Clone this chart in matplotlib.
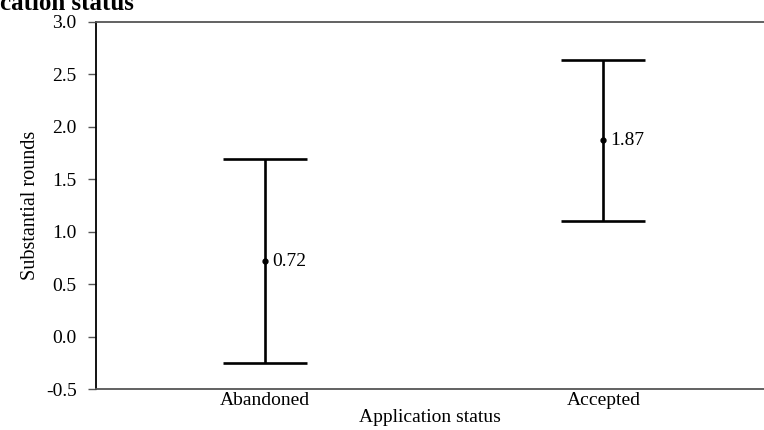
import matplotlib
matplotlib.use("Agg")
import matplotlib.pyplot as plt

categories = ["Abandoned", "Accepted"]
means = [0.72, 1.87]
lower = [-0.255, 1.105]
upper = [1.695, 2.635]
yticks = [-0.5, 0.0, 0.5, 1.0, 1.5, 2.0, 2.5, 3.0]

plt.rcParams['font.family'] = ['Liberation Serif', 'DejaVu Serif']
plt.rcParams['axes.unicode_minus'] = False

fig = plt.figure(figsize=(7.64, 4.30), dpi=100)
ax = fig.add_axes([96/764, 41/430, 1 - 96/764, (389-22)/430])

x = list(range(len(categories)))
yerr = [[m - l for m, l in zip(means, lower)], [u - m for m, u in zip(means, upper)]]
ax.errorbar(x, means, yerr=yerr, fmt='o', color='black', ecolor='black',
            markersize=3.5, elinewidth=1.9, capsize=30, capthick=1.9)
for xi, m in zip(x, means):
    ax.annotate(f"{m:.2f}", (xi, m), xytext=(5, 0), textcoords='offset points',
                va='center', ha='left', fontsize=14)

ax.set_xlim(-0.5, 1.475)
ax.set_ylim(-0.5, 3.0)
ax.set_yticks(yticks)
ax.set_yticklabels([f"{v:.1f}" for v in yticks], fontsize=14)
ax.set_xticks(x)
ax.set_xticklabels(categories, fontsize=14)
ax.tick_params(axis='x', length=0, pad=2)
ax.tick_params(axis='y', length=6, width=1, color='#555555', pad=8, direction='out')

ax.spines['right'].set_visible(False)
ax.spines['left'].set_color('black')
ax.spines['left'].set_linewidth(1.3)
for s in ['top', 'bottom']:
    ax.spines[s].set_color('#555555')
    ax.spines[s].set_linewidth(1.3)

ax.set_xlabel("Application status", fontsize=14, labelpad=0)
ax.set_ylabel("Substantial rounds", fontsize=14.5, labelpad=4)

fig.text(0.0, 1 - 10/430, "cation status", fontsize=18, fontweight='bold',
         ha='left', va='baseline')

fig.savefig("out.png", dpi=100)
